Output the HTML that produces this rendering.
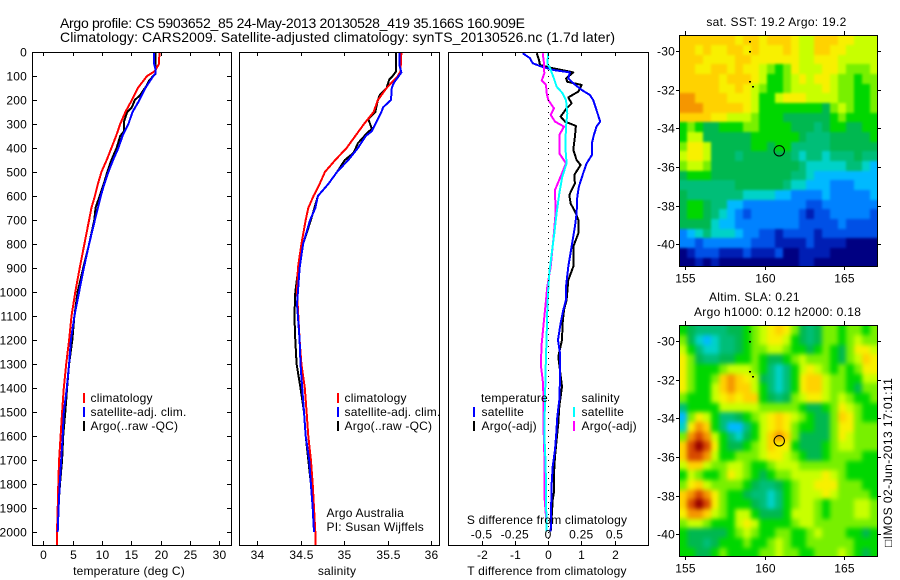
<!DOCTYPE html>
<html>
<head>
<meta charset="utf-8">
<title>Argo profile</title>
<style>
html,body{margin:0;padding:0;background:#fff;width:900px;height:580px;overflow:hidden}
svg{display:block}
text{font-family:"Liberation Sans","DejaVu Sans",sans-serif;font-size:12px;fill:#000;letter-spacing:.2px}
.frame{fill:none;stroke:#000;stroke-width:1;shape-rendering:crispEdges}
.tick{stroke:#000;stroke-width:1;shape-rendering:crispEdges}
.curve{fill:none;stroke-width:2;shape-rendering:crispEdges;stroke-linejoin:round}
.key{stroke-width:2;shape-rendering:crispEdges}
</style>
</head>
<body>
<svg id="figure" xmlns="http://www.w3.org/2000/svg" width="900" height="580" viewBox="0 0 900 580">
  <defs>
    <clipPath id="sstClip"><rect x="680" y="36" width="198" height="231"/></clipPath>
    <clipPath id="slaClip"><rect x="680" y="326" width="198" height="231"/></clipPath>
    <filter id="softSst" x="-10%" y="-10%" width="120%" height="120%" color-interpolation-filters="sRGB"><feGaussianBlur stdDeviation="1.2"/></filter>
    <filter id="softSla" x="-10%" y="-10%" width="120%" height="120%" color-interpolation-filters="sRGB"><feGaussianBlur stdDeviation="2.4"/></filter>
  </defs>
  <rect width="900" height="580" fill="#fff"/>
  <text x="60" y="28" style="font-size:14px;letter-spacing:0" textLength="465" lengthAdjust="spacing">Argo profile: CS 5903652_85 24-May-2013 20130528_419 35.166S 160.909E</text>
  <text x="60" y="42" style="font-size:14px;letter-spacing:0" textLength="555" lengthAdjust="spacing">Climatology: CARS2009. Satellite-adjusted climatology: synTS_20130526.nc (1.7d later)</text>

  <g id="heatmaps"></g>
  <g id="curves"></g>
  <g id="axes"></g>

  <rect class="frame" x="32.5" y="52.5" width="199" height="493"/>
  <rect class="frame" x="239.5" y="52.5" width="200" height="493"/>
  <rect class="frame" x="448.5" y="52.5" width="200" height="493"/>
  <rect class="frame" x="679.5" y="35.5" width="198" height="231"/>
  <rect class="frame" x="679.5" y="325.5" width="198" height="231"/>

  <text x="129" y="575" text-anchor="middle">temperature (deg C)</text>
  <text x="337" y="575" text-anchor="middle">salinity</text>
  <text x="547" y="575" text-anchor="middle">T difference from climatology</text>
  <text x="547" y="524" text-anchor="middle">S difference from climatology</text>

  <g>
    <line class="key" x1="84" y1="393" x2="84" y2="403" stroke="#f00"/>
    <text x="90.5" y="402">climatology</text>
    <line class="key" x1="84" y1="407" x2="84" y2="417" stroke="#00f"/>
    <text x="90.5" y="416">satellite-adj. clim.</text>
    <line class="key" x1="84" y1="421" x2="84" y2="431" stroke="#000"/>
    <text x="90.5" y="430">Argo(..raw -QC)</text>
  </g>
  <g>
    <line class="key" x1="338" y1="393" x2="338" y2="403" stroke="#f00"/>
    <text x="344.5" y="402">climatology</text>
    <line class="key" x1="338" y1="407" x2="338" y2="417" stroke="#00f"/>
    <text x="344.5" y="416">satellite-adj. clim.</text>
    <line class="key" x1="338" y1="421" x2="338" y2="431" stroke="#000"/>
    <text x="344.5" y="430">Argo(..raw -QC)</text>
  </g>
  <text x="326.5" y="517">Argo Australia</text>
  <text x="326.5" y="531">PI: Susan Wijffels</text>

  <g>
    <text x="481" y="402">temperature</text>
    <line class="key" x1="474" y1="407" x2="474" y2="417" stroke="#00f"/>
    <text x="481.5" y="416">satellite</text>
    <line class="key" x1="474" y1="421" x2="474" y2="431" stroke="#000"/>
    <text x="481.5" y="430">Argo(-adj)</text>
    <text x="581.5" y="402">salinity</text>
    <line class="key" x1="574" y1="407" x2="574" y2="417" stroke="#0ff"/>
    <text x="581.5" y="416">satellite</text>
    <line class="key" x1="574" y1="421" x2="574" y2="431" stroke="#f0f"/>
    <text x="581.5" y="430">Argo(-adj)</text>
  </g>

  <text x="776.5" y="26" text-anchor="middle" style="letter-spacing:.3px">sat. SST: 19.2 Argo: 19.2</text>
  <text x="709" y="301" style="letter-spacing:.3px">Altim. SLA: 0.21</text>
  <text x="694" y="316" style="letter-spacing:.3px">Argo h1000: 0.12 h2000: 0.18</text>
  <text transform="translate(892,547) rotate(-90)" textLength="169" lengthAdjust="spacing">□IMOS 02-Jun-2013 17:01:11</text>
</svg>

<script>
/* ---------- profile data ---------- */
const depthTicks = [0,100,200,300,400,500,600,700,800,900,1000,1100,1200,1300,1400,1500,1600,1700,1800,1900,2000];
const tempTicks = [0,5,10,15,20,25,30];
const salTicks = [34,34.5,35,35.5,36];
const salTickLabels = ["34","34.5","35","35.5","36"];
const tDiffTicks = [-2,-1,0,1,2];
const tDiffTickLabels = ["-2","-1","0","1","2"];
const sDiffTicks = [-0.5,-0.25,0,0.25,0.5];
const sDiffTickLabels = ["-0.5","-0.25","0","0.25","0.5"];

const climDepth = [0,50,80,100,150,200,250,300,350,400,450,500,550,600,650,700,800,900,1000,1100,1200,1300,1400,1500,1600,1700,1800,1900,2000,2058];
const climTemp = [19.8,19.7,19.0,17.7,16.1,15.1,14.0,13.1,12.4,11.6,10.8,9.9,9.3,8.8,8.2,7.8,7.0,6.2,5.45,4.8,4.4,3.9,3.5,3.2,2.95,2.7,2.55,2.45,2.33,2.33];
const satTempDepth = [0,50,70,90,100,150,200,250,300,350,400,450,500,550,600,650,700,800,900,1000,1100,1200,1300,1400,1500,1600,1700,1800,1900,2000];
const satTemp = [18.9,18.9,19.1,19.1,18.75,17.4,16.4,15.2,14.5,13.5,12.8,11.9,11.1,10.4,9.8,9.3,8.8,7.8,6.9,6.1,5.3,4.7,4.4,4.0,3.5,3.3,3.05,2.8,2.6,2.45];
const argoTempDepth = [0,90,100,120,140,180,200,230,250,290,330,350,400,450,500,550,600,650,700,800,900,1000,1100,1200,1300,1400,1500,1600,1700,1800,1900,2000];
const argoTemp = [19.15,19.15,18.75,18.0,17.6,16.5,15.6,15.1,14.3,13.75,13.75,13.1,12.5,11.6,10.9,10.3,9.6,8.9,8.7,7.8,6.8,5.85,5.3,4.95,4.4,4.05,3.75,3.4,3.2,2.85,2.55,2.45];

const climSalDepth = [0,80,100,150,200,250,300,350,400,450,500,550,600,650,700,800,900,1000,1100,1200,1300,1400,1500,1600,1700,1800,1900,2000,2058];
const climSal = [35.66,35.65,35.62,35.49,35.39,35.34,35.23,35.13,35.03,34.9,34.78,34.72,34.65,34.59,34.56,34.51,34.47,34.46,34.475,34.49,34.51,34.55,34.57,34.59,34.62,34.64,34.655,34.67,34.675];
const satSalDepth = [0,60,85,100,130,150,200,230,250,300,330,350,400,450,500,550,600,650,700,800,900,1000,1050,1100,1200,1300,1400,1500,1600,1700,1800,1900,2000];
const satSal = [35.64,35.64,35.66,35.63,35.57,35.55,35.54,35.45,35.43,35.36,35.32,35.25,35.16,35.05,34.92,34.82,34.7,34.67,34.61,34.53,34.49,34.47,34.46,34.47,34.49,34.5,34.52,34.54,34.56,34.6,34.62,34.64,34.655];
const argoSalDepth = [0,80,100,115,150,180,200,250,280,300,320,340,380,420,450,500,550,600,650,700,800,900,1000,1100,1200,1300,1400,1500,1600,1700,1800,1900,2000];
const argoSal = [35.6,35.6,35.56,35.52,35.49,35.41,35.39,35.36,35.28,35.3,35.32,35.26,35.16,35.11,35.01,34.92,34.82,34.7,34.66,34.62,34.53,34.475,34.44,34.43,34.44,34.455,34.5,34.54,34.56,34.59,34.62,34.64,34.655];

const satDTDepth = [5,26,47,61,75,85,110,130,158,179,200,242,290,311,346,380,429,464,505,561,603,672,728,811,894,978,1033,1075,1130,1200,1255,1366,1450,1519,1588,1658,1727,1797,1866,1936,1998];
const satDT = [-0.76,-0.54,-0.46,-0.19,0.16,0.66,0.61,0.76,1.01,1.26,1.36,1.46,1.57,1.46,1.38,1.32,1.32,1.16,1.06,0.93,0.88,0.86,0.81,0.71,0.61,0.54,0.54,0.46,0.38,0.30,0.36,0.36,0.34,0.28,0.25,0.21,0.14,0.11,0.10,0.09,0.08];
const argoDTDepth = [5,33,54,68,85,110,124,137,165,189,214,235,269,290,308,353,408,450,471,512,547,596,631,672,700,756,811,894,950,1033,1075,1130,1200,1269,1394,1477,1547,1588,1685,1755,1832,1866,1936,1998];
const argoDT = [-0.34,-0.27,-0.24,0.16,0.76,0.54,0.58,1.01,0.91,0.61,0.71,0.56,0.38,0.51,0.84,0.81,0.76,0.86,0.98,0.79,0.81,0.64,0.68,0.84,0.91,0.91,0.76,0.76,0.61,0.56,0.48,0.44,0.42,0.31,0.42,0.34,0.31,0.28,0.21,0.18,0.18,0.14,0.11,0.08];
const satDSDepth = [5,47,68,103,144,172,200,256,311,394,464,519,589,672,756,839,922,1006,1074,1172,1311,1450,1588,1727,1866,1998];
const satDS = [0.0025,-0.005,0.015,0.04,0.065,0.11,0.135,0.145,0.135,0.13,0.14,0.1075,0.085,0.065,0.0475,0.0275,0.01,0,-0.005,-0.01,-0.0175,-0.0225,-0.0275,-0.0175,-0.015,-0.01];
const argoDSDepth = [5,47,89,119,137,172,200,235,262,290,311,346,422,464,519,575,672,783,894,978,1075,1172,1227,1311,1366,1450,1588,1727,1866,1936,1990];
const argoDS = [-0.04,-0.03,-0.0275,-0.0475,-0.015,-0.01,0.0025,0.045,0.02,0.0525,0.12,0.085,0.085,0.135,0.095,0.0525,0.0575,0.04,0.02,-0.005,-0.0225,-0.04,-0.05,-0.0525,-0.04,-0.0325,-0.0325,-0.025,-0.025,-0.015,-0.01];

/* ---------- map data ---------- */
const lonTicks = [155,160,165];
const latTicks = [-30,-32,-34,-36,-38,-40];
const profileLon = [160.909];
const profileLat = [-35.166];
const coastLon = [158.99,158.99,158.99,159.2];
const coastLat = [-29.47,-30.0,-31.54,-31.8];

/* colour-level rows, north to south, 0.5 degree cells */
const sstLevels = [
[12,12,12,12,12,12,12,11,12,12,11,12,12,12,11,10,10,12,12,12,11,11,10,10,10],
[12,12,11,12,11,11,12,12,11,12,11,11,11,12,11,10,10,12,12,11,11,10,10,10,10],
[12,12,12,11,11,11,11,12,12,11,11,11,11,11,11,10,10,11,11,11,10,10,10,10,10],
[12,12,11,11,12,12,11,12,11,11,10,9,8,9,11,10,10,10,11,11,10,9,9,9,10],
[12,12,12,12,12,11,12,12,12,11,10,8,8,9,10,11,10,11,11,10,9,9,8,9,9],
[12,12,12,12,12,11,11,12,11,10,9,8,8,9,10,10,10,10,11,10,9,9,8,8,9],
[13,13,12,12,12,12,11,11,11,10,8,8,10,11,11,11,10,10,10,10,9,9,8,8,9],
[13,13,13,12,12,12,12,12,11,10,8,8,8,8,8,8,8,8,7,9,10,9,8,8,9],
[12,12,12,12,11,11,10,10,10,9,8,8,8,7,7,7,7,7,7,8,9,8,8,8,8],
[8,9,8,7,7,8,8,8,9,9,8,8,8,8,7,7,7,6,7,8,8,7,7,8,8],
[8,10,10,7,7,7,7,7,7,8,8,8,8,8,8,7,6,6,6,7,7,7,7,7,8],
[9,11,11,10,7,7,7,7,7,8,8,7,8,8,6,6,6,6,6,7,7,7,7,7,7],
[10,11,11,10,7,7,7,6,7,7,7,7,7,7,6,5,6,6,5,6,6,6,7,6,6],
[9,10,10,9,7,7,7,7,7,7,7,7,7,7,7,6,5,5,5,5,5,6,6,5,4],
[7,8,8,8,7,7,7,7,7,7,7,7,7,7,6,6,5,4,4,4,4,4,4,4,4],
[6,6,6,6,6,6,6,7,7,7,7,7,7,6,5,5,4,4,4,3,3,3,4,4,4],
[7,6,6,6,6,6,6,6,5,5,5,5,4,4,3,3,3,3,4,3,3,3,3,3,4],
[7,8,8,7,6,6,4,4,3,3,3,3,3,3,3,3,2,2,3,3,3,3,3,3,3],
[7,8,8,7,6,5,4,3,2,3,3,3,3,3,3,2,1,2,2,3,3,3,3,3,2],
[7,7,7,7,5,4,4,3,3,3,3,3,3,3,3,2,2,2,2,2,3,2,2,2,2],
[3,4,5,6,5,5,5,4,3,3,2,2,1,2,2,2,2,1,2,2,2,2,2,2,2],
[3,3,2,3,3,3,3,3,3,2,2,2,1,1,1,1,2,1,1,1,1,0,0,0,0],
[0,1,2,2,2,1,1,1,2,1,1,1,2,0,0,1,1,1,1,0,0,0,0,0,0],
[0,0,1,0,1,0,0,0,0,0,0,0,0,0,0,1,1,0,0,0,0,0,0,0,0]
];
const slaLevels = [
[8,7,6,6,6,6,7,7,8,9,10,11,12,11,9,7,6,7,9,9,8,9,9,8,9],
[9,7,5,4,5,6,6,7,8,9,10,11,11,10,8,7,6,7,9,9,8,9,10,9,9],
[10,8,6,5,5,6,6,7,8,9,9,10,10,9,8,8,7,8,9,8,7,9,11,11,10],
[11,9,7,6,6,7,7,8,8,9,8,7,7,8,9,10,9,9,9,8,7,9,10,12,11],
[11,9,8,8,8,9,10,10,10,9,8,6,5,6,8,10,11,10,9,8,9,8,9,11,11],
[11,9,8,8,9,12,13,12,11,10,7,6,5,6,8,11,12,12,10,9,9,8,8,10,10],
[11,9,8,8,10,12,13,12,12,10,8,6,5,6,8,11,12,12,10,9,9,8,7,9,9],
[9,8,8,8,10,11,12,11,12,12,8,7,6,7,9,10,11,11,10,9,10,9,8,8,9],
[6,8,8,8,8,10,10,10,10,10,9,9,9,9,9,8,7,7,8,9,11,10,9,8,8],
[4,9,11,10,8,6,6,7,8,9,10,11,12,11,10,9,8,7,7,9,12,11,9,8,8],
[5,11,13,12,8,6,4,4,6,8,10,11,12,11,9,8,8,7,7,9,11,11,9,9,9],
[9,13,14,13,10,8,6,5,7,8,10,12,13,12,9,7,7,7,7,9,11,10,9,9,9],
[12,14,15,14,11,8,7,7,8,9,10,12,11,11,8,7,7,7,8,9,10,10,9,9,9],
[12,14,14,13,10,8,8,9,9,9,10,11,11,10,9,8,7,7,8,9,9,9,9,8,8],
[10,12,12,10,9,9,10,10,9,8,8,9,10,10,10,9,9,9,9,9,9,8,8,8,8],
[8,10,9,8,8,9,11,10,9,8,7,8,9,9,10,10,10,10,11,10,9,8,8,8,8],
[9,11,12,10,9,9,9,9,8,7,6,6,7,8,9,10,10,11,11,11,9,9,9,8,8],
[12,13,14,13,11,9,8,8,7,6,6,5,6,8,9,10,10,10,11,10,9,9,9,9,8],
[12,14,15,14,11,9,8,8,8,7,6,5,6,8,9,10,10,9,8,9,9,9,10,10,9],
[11,13,13,12,10,9,8,10,10,8,7,7,7,8,10,10,10,9,8,9,9,9,10,10,9],
[9,10,10,9,8,8,8,10,11,10,8,8,8,8,9,10,10,9,9,9,9,9,9,9,9],
[8,7,7,7,7,7,8,9,10,9,8,8,9,9,8,8,9,10,9,9,9,8,8,7,8],
[8,7,7,6,7,8,8,8,9,8,8,9,10,9,8,8,9,9,9,9,9,9,8,8,8],
[8,8,7,7,8,9,8,8,8,8,9,9,10,9,9,8,8,9,9,9,10,9,8,7,8]
];

/* ---------- colour scale ---------- */
const levelColors = ["#000082","#001eb4","#0050e6","#0082ff","#00b9ff","#00d2c8","#00be78","#00b850","#00d700","#78f000","#c8ff00","#f8f000","#ffd200","#f59600","#d84a00","#960000"];

/* ---------- axis functions ---------- */
const SVGNS = "http://www.w3.org/2000/svg";
const yDepth = d => 52 + d * 0.24;
const xTemp = v => 43.3 + v * 5.867;
const xSal = v => 257 + (v - 34) * 87;
const xDT = v => 548 + v * 33.25;
const xDS = v => 548 + v * 133;
const xLon = v => 685.3 + (v - 155) * 15.9;
const yLatTop = v => 51 + (-30 - v) * 19.33;
const yLatBottom = v => 341 + (-30 - v) * 19.33;
const cellLonStart = 154.62;
const cellLatStart = -29.19;
const cellSize = 0.5;
const edgeBleed = 12;

function make(tag, attrs, parent, text) {
  const el = document.createElementNS(SVGNS, tag);
  for (const k in attrs) el.setAttribute(k, attrs[k]);
  if (text !== undefined) el.textContent = text;
  parent.appendChild(el);
  return el;
}

const curvesLayer = document.getElementById("curves");
const axesLayer = document.getElementById("axes");
const mapLayer = document.getElementById("heatmaps");

function drawCurve(name, depths, values, xFn, color) {
  const pts = values.map((v, i) => xFn(v).toFixed(1) + "," + yDepth(depths[i]).toFixed(1)).join(" ");
  const el = make("polyline", {"class": "curve", points: pts, stroke: color}, curvesLayer);
  
  
}

function tick(name, x1, y1, x2, y2) {
  const el = make("line", {"class": "tick", x1: x1, y1: y1, x2: x2, y2: y2}, axesLayer);
  
  
}

function label(name, x, y, anchor, str) {
  const el = make("text", {x: x, y: y, "text-anchor": anchor}, axesLayer, str);
  
  
}

/* temperature panel */
drawCurve("argo-temperature-line", argoTempDepth, argoTemp, xTemp, "#000");
drawCurve("climatology-temperature-line", climDepth, climTemp, xTemp, "#f00");
drawCurve("satellite-temperature-line", satTempDepth, satTemp, xTemp, "#00f");

/* salinity panel */
drawCurve("argo-salinity-line", argoSalDepth, argoSal, xSal, "#000");
drawCurve("climatology-salinity-line", climSalDepth, climSal, xSal, "#f00");
drawCurve("satellite-salinity-line", satSalDepth, satSal, xSal, "#00f");

/* difference panel */
drawCurve("argo-t-difference-line", argoDTDepth, argoDT, xDT, "#000");
drawCurve("satellite-t-difference-line", satDTDepth, satDT, xDT, "#00f");
drawCurve("argo-s-difference-line", argoDSDepth, argoDS, xDS, "#f0f");
drawCurve("satellite-s-difference-line", satDSDepth, satDS, xDS, "#0ff");

const zeroLine = make("line", {x1: 548.5, y1: yDepth(0), x2: 548.5, y2: 545, stroke: "#000", "stroke-width": 1, "stroke-dasharray": "1 5", "shape-rendering": "crispEdges"}, axesLayer);



/* depth axis */
depthTicks.forEach(d => {
  const y = Math.round(yDepth(d)) + 0.5;
  tick("depth-tick-left", 32, y, 37, y);
  tick("depth-tick-right", 227, y, 231, y);
  label("depth-tick-label", 27, Math.round(yDepth(d)) + 4.5, "end", String(d));
});

/* x axes */
tempTicks.forEach(v => {
  const x = Math.round(xTemp(v)) + 0.5;
  tick("temperature-tick-top", x, 52, x, 56);
  tick("temperature-tick-bottom", x, 541, x, 545);
  label("temperature-tick-label", x, 559, "middle", String(v));
});
salTicks.forEach((v, i) => {
  const x = Math.round(xSal(v)) + 0.5;
  tick("salinity-tick-top", x, 52, x, 56);
  tick("salinity-tick-bottom", x, 541, x, 545);
  label("salinity-tick-label", x, 559, "middle", salTickLabels[i]);
});
tDiffTicks.forEach((v, i) => {
  const x = Math.round(xDT(v)) + 0.5;
  tick("t-difference-tick-top", x, 52, x, 56);
  tick("t-difference-tick-bottom", x, 541, x, 545);
  label("t-difference-tick-label", x, 559, "middle", tDiffTickLabels[i]);
});
sDiffTicks.forEach((v, i) => {
  label("s-difference-tick-label", xDS(v), 538.5, "middle", sDiffTickLabels[i]);
});

/* maps */
function drawMap(prefix, levels, yLat, top, bottom, clipId, filterId) {
  const clipGroup = make("g", {"clip-path": "url(#" + clipId + ")"}, mapLayer);
  
  
  const cellGroup = make("g", {filter: "url(#" + filterId + ")"}, clipGroup);
  
  
  levels.forEach((row, r) => {
    row.forEach((lv, c) => {
      let x0 = Math.round(xLon(cellLonStart + c * cellSize));
      let x1 = Math.round(xLon(cellLonStart + (c + 1) * cellSize));
      let y0 = Math.round(yLat(cellLatStart - r * cellSize));
      let y1 = Math.round(yLat(cellLatStart - (r + 1) * cellSize));
      if (c === 0) x0 -= edgeBleed;
      if (c === row.length - 1) x1 += edgeBleed;
      if (r === 0) y0 -= edgeBleed;
      if (r === levels.length - 1) y1 += edgeBleed;
      const cell = make("rect", {
        x: x0, y: y0, width: x1 - x0, height: y1 - y0,
        fill: levelColors[lv], "shape-rendering": "crispEdges"
      }, cellGroup);
      
      
    });
  });
  coastLon.forEach((lon, i) => {
    const dot = make("rect", {x: Math.round(xLon(lon)), y: Math.round(yLat(coastLat[i])), width: 2, height: 1.5, fill: "#000"}, mapLayer);
    
    
  });
  const ring = make("circle", {cx: xLon(profileLon[0]), cy: yLat(profileLat[0]), r: 5.2, fill: "none", stroke: "#000", "stroke-width": 1}, mapLayer);
  
  

  lonTicks.forEach(v => {
    const x = Math.round(xLon(v)) + 0.5;
    tick(prefix + "-lon-tick-top", x, top - 4, x, top);
    tick(prefix + "-lon-tick-bottom", x, bottom, x, bottom + 4);
    label(prefix + "-lon-tick-label", x, bottom + 16.5, "middle", String(v));
  });
  latTicks.forEach(v => {
    const y = Math.round(yLat(v)) + 0.5;
    tick(prefix + "-lat-tick-left", 676, y, 680, y);
    tick(prefix + "-lat-tick-right", 878, y, 881, y);
    label(prefix + "-lat-tick-label", 675, y + 4, "end", String(v));
  });
}
drawMap("sst-map", sstLevels, yLatTop, 35, 266, "sstClip", "softSst");
drawMap("sla-map", slaLevels, yLatBottom, 325, 556, "slaClip", "softSla");
</script>
</body>
</html>
